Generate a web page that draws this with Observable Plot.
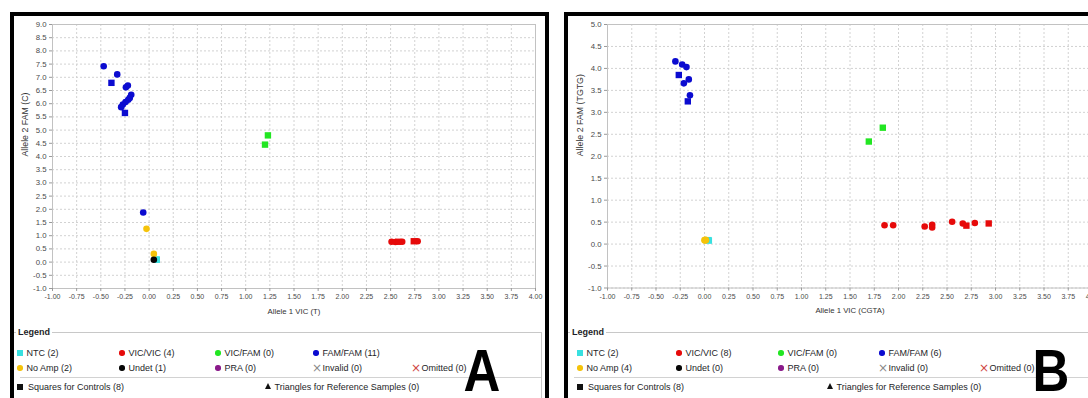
<!DOCTYPE html>
<html><head><meta charset="utf-8">
<script src="https://cdn.jsdelivr.net/npm/d3@7"></script>
<script src="https://cdn.jsdelivr.net/npm/@observablehq/plot@0.6"></script>
<style>
html,body{margin:0;padding:0;background:#fff;}
#page{position:relative;width:1088px;height:398px;overflow:hidden;background:#fff;font-family:"Liberation Sans",Arial,sans-serif;}
.lgi{position:absolute;height:10px;display:flex;align-items:center;font-size:9px;color:#1e1e28;white-space:nowrap;line-height:10px;}
.big{position:absolute;width:60px;height:44px;text-align:center;font:bold 60px/44px "Liberation Sans",Arial,sans-serif;color:#000;transform:scaleX(0.85);}
</style></head><body><div id="page"></div>
<script>
// ---------- tick labels ----------
const xTicks = [-1.00,-0.75,-0.50,-0.25,0.00,0.25,0.50,0.75,1.00,1.25,1.50,1.75,2.00,2.25,2.50,2.75,3.00,3.25,3.50,3.75,4.00];
const aYTicks = [-1.0,-0.5,0.0,0.5,1.0,1.5,2.0,2.5,3.0,3.5,4.0,4.5,5.0,5.5,6.0,6.5,7.0,7.5,8.0,8.5,9.0];
const bYTicks = [-1.0,-0.5,0.0,0.5,1.0,1.5,2.0,2.5,3.0,3.5,4.0,4.5,5.0];
const xTitles = ["Allele 1 VIC (T)", "Allele 1 VIC (CGTA)"];
const yTitles = ["Allele 2 FAM (C)", "Allele 2 FAM (TGTG)"];
const panelLetters = ["A", "B"];

// ---------- panel A values ----------
const aFamFamX = [-0.47,-0.33,-0.24,-0.22,-0.185,-0.20,-0.216,-0.244,-0.272,-0.289,-0.061];
const aFamFamY = [7.42,7.11,6.62,6.69,6.34,6.22,6.15,6.06,5.97,5.87,1.88];
const aFamCtrlX = [-0.39,-0.25];
const aFamCtrlY = [6.79,5.65];
const aVicVicX = [2.51,2.55,2.62,2.78];
const aVicVicY = [0.77,0.76,0.77,0.79];
const aVicCtrlX = [2.58,2.74];
const aVicCtrlY = [0.77,0.79];
const aHetCtrlX = [1.20,1.23];
const aHetCtrlY = [4.45,4.80];
const aNtcX = [0.075,0.08];
const aNtcY = [0.10,0.09];
const aNoAmpX = [-0.027,0.049];
const aNoAmpY = [1.26,0.31];
const aUndetX = [0.049];
const aUndetY = [0.09];

// ---------- panel B values ----------
const bFamFamX = [-0.30,-0.23,-0.186,-0.162,-0.213,-0.15];
const bFamFamY = [4.16,4.09,4.03,3.75,3.66,3.39];
const bFamCtrlX = [-0.265,-0.172];
const bFamCtrlY = [3.85,3.25];
const bVicVicX = [1.856,1.945,2.27,2.347,2.347,2.553,2.663,2.787];
const bVicVicY = [0.43,0.43,0.40,0.44,0.38,0.51,0.47,0.48];
const bVicCtrlX = [2.70,2.93];
const bVicCtrlY = [0.42,0.47];
const bHetCtrlX = [1.694,1.838];
const bHetCtrlY = [2.335,2.65];
const bNtcX = [0.04,0.045];
const bNtcY = [0.09,0.08];
const bNoAmpX = [0.00,0.01,0.005,0.015];
const bNoAmpY = [0.09,0.10,0.08,0.09];
const bUndetX = [];
const bUndetY = [];

// ---------- legend ----------
const legendNames = ["NTC","VIC/VIC","VIC/FAM","FAM/FAM","No Amp","Undet","PRA","Invalid","Omitted"];
const aLegendCounts = [2,4,0,11,2,1,0,0,0];
const bLegendCounts = [2,8,0,6,4,0,0,0,0];
const controlCounts = [8,8];
const referenceCounts = [0,0];

// ---------- styles ----------
const COLORS = {"NTC":"#38e0e0","VIC/VIC":"#e60a0a","VIC/FAM":"#22e622","FAM/FAM":"#0b0bd0",
  "No Amp":"#f5c30a","Undet":"#060606","PRA":"#8a1a8a","Invalid":"#8a8a8a","Omitted":"#d04545"};
const LEG_SHAPE = {"NTC":"square","VIC/VIC":"circle","VIC/FAM":"circle","FAM/FAM":"circle","No Amp":"circle",
  "Undet":"circle","PRA":"circle","Invalid":"x","Omitted":"x"};

const zipPts = (xs, ys) => xs.map((x, i) => ({x, y: ys[i]}));

const seriesA = [
  {cat:"NTC", pts: zipPts(aNtcX, aNtcY), symbol:"square"},
  {cat:"No Amp", pts: zipPts(aNoAmpX, aNoAmpY), symbol:"circle"},
  {cat:"Undet", pts: zipPts(aUndetX, aUndetY), symbol:"circle"},
  {cat:"VIC/FAM", pts: zipPts(aHetCtrlX, aHetCtrlY), symbol:"square"},
  {cat:"VIC/VIC", pts: zipPts(aVicVicX, aVicVicY), symbol:"circle"},
  {cat:"VIC/VIC", pts: zipPts(aVicCtrlX, aVicCtrlY), symbol:"square"},
  {cat:"FAM/FAM", pts: zipPts(aFamFamX, aFamFamY), symbol:"circle"},
  {cat:"FAM/FAM", pts: zipPts(aFamCtrlX, aFamCtrlY), symbol:"square"}
];
const seriesB = [
  {cat:"NTC", pts: zipPts(bNtcX, bNtcY), symbol:"square"},
  {cat:"No Amp", pts: zipPts(bNoAmpX, bNoAmpY), symbol:"circle"},
  {cat:"Undet", pts: zipPts(bUndetX, bUndetY), symbol:"circle"},
  {cat:"VIC/FAM", pts: zipPts(bHetCtrlX, bHetCtrlY), symbol:"square"},
  {cat:"VIC/VIC", pts: zipPts(bVicVicX, bVicVicY), symbol:"circle"},
  {cat:"VIC/VIC", pts: zipPts(bVicCtrlX, bVicCtrlY), symbol:"square"},
  {cat:"FAM/FAM", pts: zipPts(bFamFamX, bFamFamY), symbol:"circle"},
  {cat:"FAM/FAM", pts: zipPts(bFamCtrlX, bFamCtrlY), symbol:"square"}
];

const panels = [
  {left:0, clipW:548, svgW:548, ml:52, mr:13, mb:42, yDomain:[-1,9], yTicks:aYTicks, series:seriesA,
   counts:aLegendCounts, cols:[20,122,218,316,415], triX:268, letterX:452, border:{l:10, r:545}, fsL:14, fsR:541},
  {left:556, clipW:532, svgW:550, ml:51, mr:14, mb:42.5, yDomain:[-1,5], yTicks:bYTicks, series:seriesB,
   counts:bLegendCounts, cols:[580,679,781,882,983], triX:830, letterX:1021, border:{l:564, r:null}, fsL:568, fsR:1095}
];

const page = document.getElementById("page");
function box(css, html) {
  const d = document.createElement("div");
  d.style.cssText = "position:absolute;" + css;
  if (html != null) d.innerHTML = html;
  page.appendChild(d);
  return d;
}

panels.forEach((p, k) => {
  const marks = [
    Plot.gridX({ticks: xTicks, stroke: "#d2d2d2", strokeOpacity: 1, strokeDasharray: "2,2"}),
    Plot.gridY({ticks: p.yTicks, stroke: "#d2d2d2", strokeOpacity: 1, strokeDasharray: "2,2"}),
    Plot.frame({stroke: "#c2c2c2"}),
    Plot.axisX({ticks: xTicks, tickFormat: d => d.toFixed(2), tickSize: 3, tickPadding: 3,
      fontSize: 7, label: null, stroke: "#999", fill: "#4a4a4a"}),
    Plot.axisY({ticks: p.yTicks, tickFormat: d => d.toFixed(1), tickSize: 3, tickPadding: 3,
      fontSize: 7.8, label: null, stroke: "#999", fill: "#4a4a4a"}),
    Plot.text([xTitles[k]], {text: d => d, frameAnchor: "bottom", dy: 25, fontSize: 7.8, fill: "#333"}),
    Plot.text([yTitles[k]], {text: d => d, frameAnchor: "left", rotate: -90, dx: -27, fontSize: 8.8, fill: "#333"})
  ];
  p.series.forEach(s => {
    marks.push(Plot.dot(s.pts, {x: "x", y: "y", symbol: s.symbol, fill: COLORS[s.cat],
      r: s.symbol === "square" ? 3.6 : 3.3}));
  });
  const svg = Plot.plot({
    width: p.svgW, height: 330,
    marginLeft: p.ml, marginRight: p.mr, marginTop: 24, marginBottom: p.mb,
    x: {domain: [-1, 4]}, y: {domain: p.yDomain},
    style: {fontFamily: '"Liberation Sans", Arial, sans-serif', background: "transparent", maxWidth: "none", color: "#4a4a4a"},
    marks
  });
  svg.style.maxWidth = "none";
  svg.style.display = "block";
  const clip = box(`left:${p.left}px;top:0;width:${p.clipW}px;height:330px;overflow:hidden;`);
  clip.appendChild(svg);

  // legend fieldset lines
  box(`left:${p.fsL}px;top:332px;width:${p.fsR - p.fsL}px;height:1px;background:#c8c8c8;`);
  box(`left:${p.fsL + 6}px;top:377px;width:${p.fsR - p.fsL - 6}px;height:1px;background:#d2d2d2;`);
  if (k === 0) box(`left:${p.fsR}px;top:332px;width:1px;height:70px;background:#c8c8c8;`);
  box(`left:${p.fsL + 2}px;top:327px;height:11px;padding:0 2px;background:#fff;font:bold 9px/11px "Liberation Sans",Arial,sans-serif;color:#1e1e28;`, "Legend");

  // legend items
  const rows = [353, 368];
  const slots = [[0,0],[0,1],[0,2],[0,3],[1,0],[1,1],[1,2],[1,3],[1,4]];
  legendNames.forEach((name, i) => {
    const [r, c] = slots[i];
    const cx = p.cols[c], cy = rows[r];
    const shape = LEG_SHAPE[name];
    if (shape === "x") {
      box(`left:${cx - 4}px;top:${cy - 6}px;width:8px;height:12px;font:12px/12px "DejaVu Sans",sans-serif;color:${COLORS[name]};text-align:center;`, "×");
    } else {
      const sz = shape === "square" ? 6 : 5.5;
      box(`left:${cx - sz/2}px;top:${cy - sz/2}px;width:${sz}px;height:${sz}px;background:${COLORS[name]};border-radius:${shape === "circle" ? "50%" : "0"};`);
    }
    const t = box(`top:${cy - 5}px;left:${cx + 6.5}px;`, `${name} (${p.counts[i]})`);
    t.className = "lgi";
  });
  // row 3
  box(`left:${p.cols[0] - 3}px;top:${387 - 3}px;width:6px;height:6px;background:#111;`);
  const t1 = box(`top:382px;left:${p.cols[0] + 8}px;`, `Squares for Controls (${controlCounts[k]})`);
  t1.className = "lgi";
  box(`left:${p.triX - 3}px;top:383px;width:0;height:0;border-left:3px solid transparent;border-right:3px solid transparent;border-bottom:6px solid #111;`);
  const t2 = box(`top:382px;left:${p.triX + 6.5}px;`, `Triangles for Reference Samples (${referenceCounts[k]})`);
  t2.className = "lgi";

  // big letter
  const L = box(`left:${p.letterX}px;top:349px;`, panelLetters[k]);
  L.className = "big";

  // thick black panel borders
  const bl = p.border.l;
  const right = p.border.r;
  box(`left:${bl}px;top:12px;width:${(right ? right + 4 : 1100) - bl}px;height:4px;background:#000;`);
  box(`left:${bl}px;top:12px;width:4px;height:390px;background:#000;`);
  if (right) box(`left:${right}px;top:12px;width:4px;height:390px;background:#000;`);
});
</script></body></html>
